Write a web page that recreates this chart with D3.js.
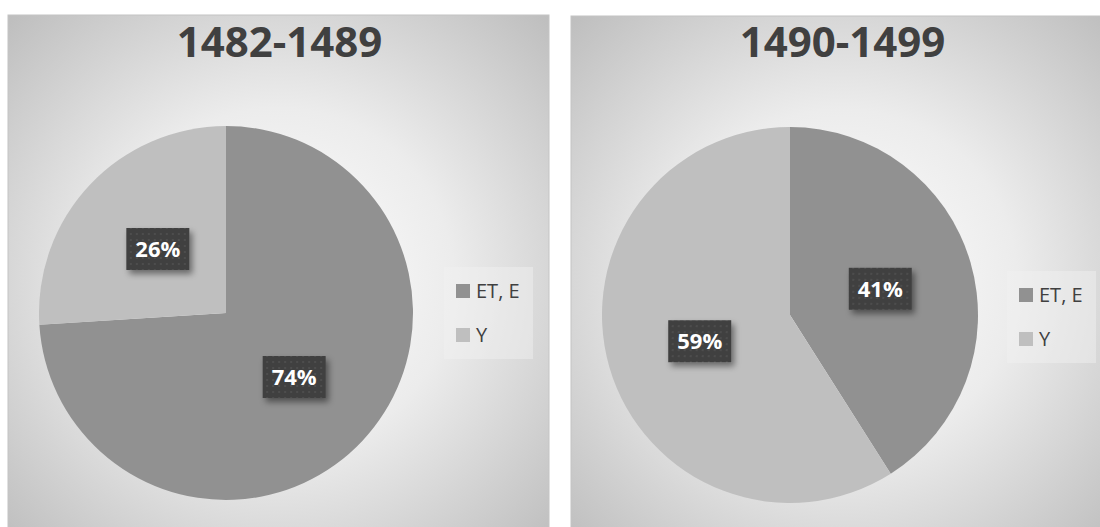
<!DOCTYPE html>
<html>
<head>
<meta charset="utf-8">
<script src="https://cdn.jsdelivr.net/npm/d3@7"></script>
<style>
    html, body { margin: 0; padding: 0; background: #fff; }
    svg { display: block; }
</style>
</head>
<body>
<div id="chart"></div>
<script>
// data
const periods = ['1482-1489', '1490-1499']
const categories = ['ET, E', 'Y']
const shares1482 = [74, 26]
const shares1490 = [41, 59]
const sliceColors = ['#919191', '#bfbfbf']

const width = 1100
const height = 527

const panels = [
    { title: periods[0], values: shares1482, x: 8, y: 15, w: 541, h: 530, cx: 226, cy: 313, r: 187, legendX: 444, legendY: 267 },
    { title: periods[1], values: shares1490, x: 571, y: 16, w: 541, h: 530, cx: 790, cy: 315, r: 188, legendX: 1007, legendY: 271 }
]

let svg = d3.select('#chart').append('svg')
    .attr('width', width)
    .attr('height', height)

let defs = svg.append('defs')

let grad = defs.append('radialGradient')
    .attr('id', 'bg')
    .attr('cx', '50%').attr('cy', '50%').attr('r', '72%')
grad.append('stop').attr('offset', '0%').attr('stop-color', '#ffffff')
grad.append('stop').attr('offset', '45%').attr('stop-color', '#ececec')
grad.append('stop').attr('offset', '100%').attr('stop-color', '#bcbcbc')

let pat = defs.append('pattern')
    .attr('id', 'dots')
    .attr('width', 6).attr('height', 6)
    .attr('patternUnits', 'userSpaceOnUse')
pat.append('rect').attr('width', 6).attr('height', 6).attr('fill', '#404040')
pat.append('rect').attr('x', 2).attr('y', 2).attr('width', 2).attr('height', 2).attr('fill', '#4e4e4e')

let shadow = defs.append('filter')
    .attr('id', 'shadow')
    .attr('x', '-30%').attr('y', '-30%').attr('width', '170%').attr('height', '170%')
shadow.append('feDropShadow')
    .attr('dx', 3).attr('dy', 4)
    .attr('stdDeviation', 3)
    .attr('flood-color', '#000')
    .attr('flood-opacity', 0.45)

let pie = d3.pie().sort(null).value(d => d)

panels.forEach(p => {
    let g = svg.append('g')

    g.append('rect')
        .attr('x', p.x).attr('y', p.y)
        .attr('width', p.w).attr('height', p.h)
        .attr('fill', 'url(#bg)')
        .attr('stroke', '#c4c4c4')
        .attr('stroke-width', 1)

    g.append('text')
        .attr('x', p.x + p.w / 2 + 1)
        .attr('y', 57)
        .attr('text-anchor', 'middle')
        .attr('font-family', 'Open Sans, sans-serif')
        .attr('font-weight', 'bold')
        .attr('font-size', 42)
        .attr('fill', '#404040')
        .text(p.title)

    let arc = d3.arc().innerRadius(0).outerRadius(p.r)
    let labelArc = d3.arc().innerRadius(p.r * 0.5).outerRadius(p.r * 0.5)
    let arcs = pie(p.values)

    let pieG = g.append('g')
        .attr('transform', 'translate(' + p.cx + ',' + p.cy + ')')

    pieG.selectAll('path')
        .data(arcs)
        .join('path')
        .attr('d', arc)
        .attr('fill', (d, i) => sliceColors[i])

    let labels = pieG.selectAll('g.lbl')
        .data(arcs)
        .join('g')
        .attr('class', 'lbl')
        .attr('transform', d => 'translate(' + labelArc.centroid(d) + ')')

    labels.append('rect')
        .attr('x', -31.5).attr('y', -21)
        .attr('width', 63).attr('height', 42)
        .attr('fill', 'url(#dots)')
        .attr('filter', 'url(#shadow)')

    labels.append('text')
        .attr('text-anchor', 'middle')
        .attr('y', 8)
        .attr('font-family', 'Open Sans, sans-serif')
        .attr('font-weight', 'bold')
        .attr('font-size', 22)
        .attr('fill', '#ffffff')
        .text(d => d.data + '%')

    // legend
    let lg = g.append('g')
        .attr('transform', 'translate(' + p.legendX + ',' + p.legendY + ')')

    lg.append('rect')
        .attr('width', 89).attr('height', 92)
        .attr('fill', '#f2f2f2')
        .attr('opacity', 0.45)

    let items = lg.selectAll('g.item')
        .data(categories)
        .join('g')
        .attr('class', 'item')
        .attr('transform', (d, i) => 'translate(12,' + (17 + i * 44) + ')')

    items.append('rect')
        .attr('width', 14).attr('height', 14)
        .attr('fill', (d, i) => sliceColors[i])

    items.append('text')
        .attr('x', 20)
        .attr('y', 14)
        .attr('font-family', 'Open Sans, sans-serif')
        .attr('font-size', 20)
        .attr('fill', '#404040')
        .text(d => d)
})
</script>
</body>
</html>
